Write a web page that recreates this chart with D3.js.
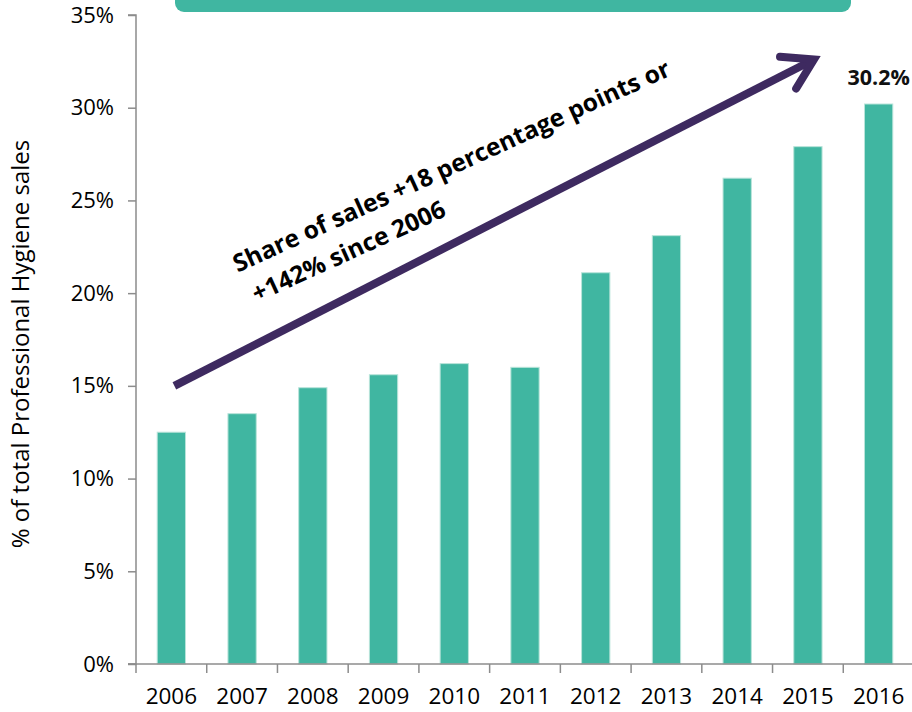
<!DOCTYPE html>
<html><head><meta charset="utf-8">
<script src="https://cdn.jsdelivr.net/npm/d3@7"></script>
<style>
html,body{margin:0;padding:0;background:#fff;}
svg{display:block;}
text{font-family:"Open Sans","Noto Sans",sans-serif;}
</style></head>
<body>
<svg id="c" width="912" height="712"></svg>
<script>
const years = ["2006","2007","2008","2009","2010","2011","2012","2013","2014","2015","2016"];
const shares = [12.5, 13.5, 14.9, 15.6, 16.2, 16.0, 21.1, 23.1, 26.2, 27.9, 30.2];
const yTicks = [0, 5, 10, 15, 20, 25, 30, 35];
const yTitle = "% of total Professional Hygiene sales";
const annotLines = ["Share of sales +18 percentage points or", "+142% since 2006"];
const lastLabel = "30.2%";
const boxTitle = "Share of sales has grown consistently, year by year";

(function () {
const teal = "#40B6A1", purple = "#3E2A60", axisCol = "#8c8c8c";
const svg = d3.select("#c");
const mL = 136, mB = 664, mT = 15, mR = 914;

const x = d3.scaleBand().domain(years).range([mL, mR]).paddingInner(0.6).paddingOuter(0.3);
const xb = d3.scaleBand().domain(years).range([mL, mR]);
const y = d3.scaleLinear().domain([0, 35]).range([mB, mT]);

// title box (cut off at top)
svg.append("rect").attr("x", 175).attr("y", -40).attr("width", 676).attr("height", 52)
  .attr("rx", 9).attr("fill", teal);
svg.append("text").attr("x", 513).attr("y", -6.5).attr("text-anchor", "middle")
  .attr("fill", "#fff").attr("font-weight", "bold").attr("font-size", 24).text(boxTitle);

// bars
svg.append("g").selectAll("rect").data(years).join("rect")
  .attr("x", d => x(d)).attr("width", x.bandwidth())
  .attr("y", (d, i) => y(shares[i])).attr("height", (d, i) => y(0) - y(shares[i]))
  .attr("fill", teal).attr("stroke", "#b9e4da").attr("stroke-width", 1);

// y axis
const ya = svg.append("g").attr("transform", `translate(${mL},0)`)
  .call(d3.axisLeft(y).tickValues(yTicks).tickFormat(d => d + "%").tickSize(8).tickPadding(14));
ya.select(".domain").attr("stroke", axisCol).attr("stroke-width", 1.5).attr("d", `M-8,${mT}H0V${mB}H-8`);
ya.selectAll(".tick line").attr("stroke", axisCol).attr("stroke-width", 1.5);
ya.selectAll(".tick text").attr("font-size", 22).attr("fill", "#000")
  .attr("font-family", '"Open Sans",sans-serif');

// x axis
const xa = svg.append("g").attr("transform", `translate(0,${mB})`)
  .call(d3.axisBottom(x).tickSize(0).tickPadding(24));
xa.select(".domain").attr("stroke", axisCol).attr("stroke-width", 1.5).attr("d", `M${mL - 8},0H${mR}`);
xa.selectAll(".tick text").attr("font-size", 22.5).attr("fill", "#000")
  .attr("font-family", '"Open Sans",sans-serif');
svg.append("g").selectAll("line").data(years).join("line")
  .attr("x1", d => xb(d)).attr("x2", d => xb(d))
  .attr("y1", mB).attr("y2", mB + 9)
  .attr("stroke", axisCol).attr("stroke-width", 1.5);

// y title
svg.append("text").attr("transform", `translate(29,344) rotate(-90)`)
  .attr("text-anchor", "middle").attr("font-size", 24).attr("fill", "#000").text(yTitle);

// last bar label
svg.append("text").attr("x", x("2016") + x.bandwidth() / 2).attr("y", y(30.2) - 19)
  .attr("text-anchor", "middle").attr("font-weight", "bold").attr("font-size", 21.5)
  .attr("fill", "#111").text(lastLabel);

// arrow
const x0 = xb("2006") + xb.bandwidth() / 2 + 3, y0 = y(15);
const x1 = xb("2015") + xb.bandwidth() / 2 + 6, y1 = y(32.6);
const ang = Math.atan2(y1 - y0, x1 - x0);
svg.append("line").attr("x1", x0).attr("y1", y0).attr("x2", x1 - 6 * Math.cos(ang)).attr("y2", y1 - 6 * Math.sin(ang))
  .attr("stroke", purple).attr("stroke-width", 8);
const hl = 34, ha = 0.55;
const p1 = [x1 - hl * Math.cos(ang - ha), y1 - hl * Math.sin(ang - ha)];
const p2 = [x1 - hl * Math.cos(ang + ha), y1 - hl * Math.sin(ang + ha)];
svg.append("path").attr("d", `M${p1[0]},${p1[1]}L${x1},${y1}L${p2[0]},${p2[1]}`)
  .attr("fill", "none").attr("stroke", purple).attr("stroke-width", 8)
  .attr("stroke-linecap", "round").attr("stroke-linejoin", "miter");

// annotation text
const tx = xb("2007") + 31, ty = y(21.1);
const t = svg.append("text").attr("transform", `translate(${tx},${ty}) rotate(-24.5)`)
  .attr("font-weight", "bold").attr("font-size", 24.5).attr("fill", "#000");
t.append("tspan").attr("x", 0).attr("y", 0).text(annotLines[0]);
t.append("tspan").attr("x", 5).attr("y", 35).text(annotLines[1]);
})();
</script>
</body></html>
